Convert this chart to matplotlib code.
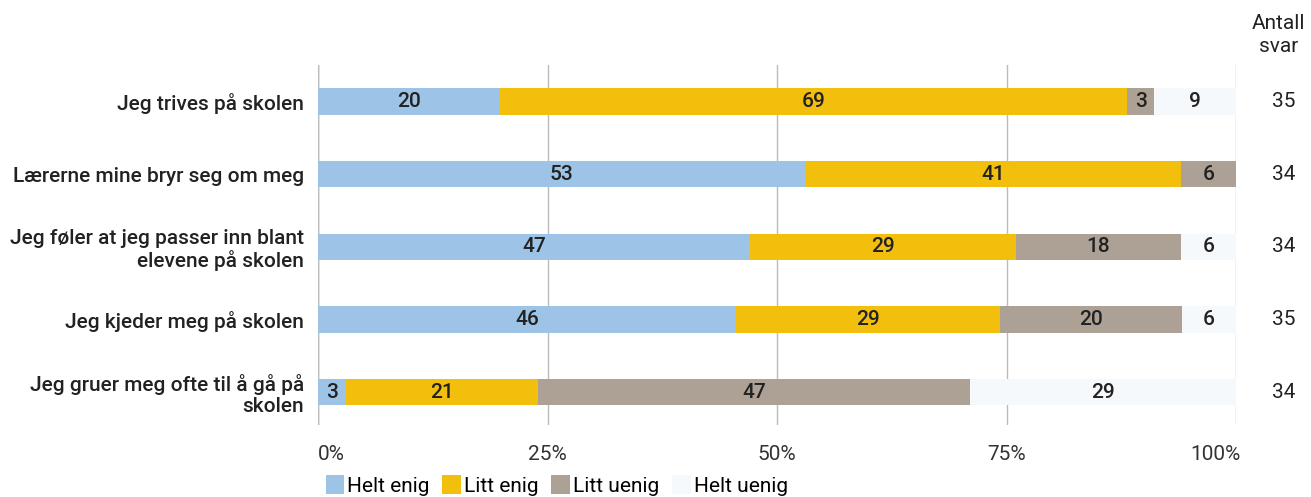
import numpy as np
import matplotlib.pyplot as plt
from matplotlib.patches import Patch

plt.rcParams['font.family'] = ['Roboto', 'DejaVu Sans']

# Data lest av figuren
utsagn = ['Jeg trives på skolen',
          'Lærerne mine bryr seg om meg',
          'Jeg føler at jeg passer inn blant\nelevene på skolen',
          'Jeg kjeder meg på skolen',
          'Jeg gruer meg ofte til å gå på\nskolen']
helt_enig = [20, 53, 47, 46, 3]
litt_enig = [69, 41, 29, 29, 21]
litt_uenig = [3, 6, 18, 20, 47]
helt_uenig = [9, 0, 6, 6, 29]
antall_svar = [35, 34, 34, 35, 34]
kategorier = ['Helt enig', 'Litt enig', 'Litt uenig', 'Helt uenig']
farger = ['#9dc3e6', '#f1bf0c', '#aca194', '#f5f9fc']
x_ticks = [0, 25, 50, 75, 100]
x_labels = ['0%', '25%', '50%', '75%', '100%']

serier = np.array([helt_enig, litt_enig, litt_uenig, helt_uenig], dtype=float)
andel = serier / serier.sum(axis=0) * 100

FS = 15
fig = plt.figure(figsize=(13.11, 4.97), dpi=100)
ax = fig.add_axes([0.2426, 0.145, 0.7003, 0.724])

y = np.arange(len(utsagn))
venstre = np.zeros(len(utsagn))
for i in range(len(kategorier)):
    ax.barh(y, andel[i], left=venstre, height=0.36, color=farger[i], zorder=2)
    for j in range(len(utsagn)):
        if serier[i, j] > 0:
            ax.text(venstre[j] + andel[i, j] / 2, y[j], f'{int(serier[i, j])}',
                    ha='center', va='center', fontsize=FS, fontweight='medium',
                    color='#222222', zorder=3)
    venstre += andel[i]

ax.set_xlim(0, 100)
ax.set_ylim(4.45, -0.5)
ax.set_yticks(y)
ax.set_yticklabels(utsagn, fontsize=FS, fontweight='medium', color='#222222',
                   linespacing=1.15)
ax.set_xticks(x_ticks)
ax.set_xticklabels([])
# prosent-etiketter: første venstrejustert, siste høyrejustert
for k, (t, lab) in enumerate(zip(x_ticks, x_labels)):
    ha = 'left' if k == 0 else ('right' if k == len(x_ticks) - 1 else 'center')
    ax.text(t + (0.5 if k == len(x_ticks) - 1 else 0), -0.055, lab,
            transform=ax.get_xaxis_transform(), ha=ha, va='top',
            fontsize=FS, color='#333333')
ax.tick_params(length=0, pad=10)
for s in ax.spines.values():
    s.set_visible(False)
ax.grid(axis='x', color='#bbbbbb', linewidth=1, zorder=0)
ax.axvline(0, color='#999999', linewidth=1, zorder=1)

# Antall svar
for j, n in enumerate(antall_svar):
    ax.text(1.052, y[j], str(n), transform=ax.get_yaxis_transform(),
            ha='center', va='center', fontsize=FS, color='#222222')
fig.text(0.975, 0.93, 'Antall\nsvar', ha='center', va='center', fontsize=FS,
         color='#222222', linespacing=1.25)

handles = [Patch(facecolor=c, edgecolor='none') for c in farger]
fig.legend(handles, kategorier, loc='lower left', bbox_to_anchor=(0.234, -0.035), ncol=4,
           frameon=False, fontsize=FS, handlelength=0.9, handleheight=1.0,
           handletextpad=0.15, columnspacing=0.6)

fig.savefig('out.png', dpi=100)
